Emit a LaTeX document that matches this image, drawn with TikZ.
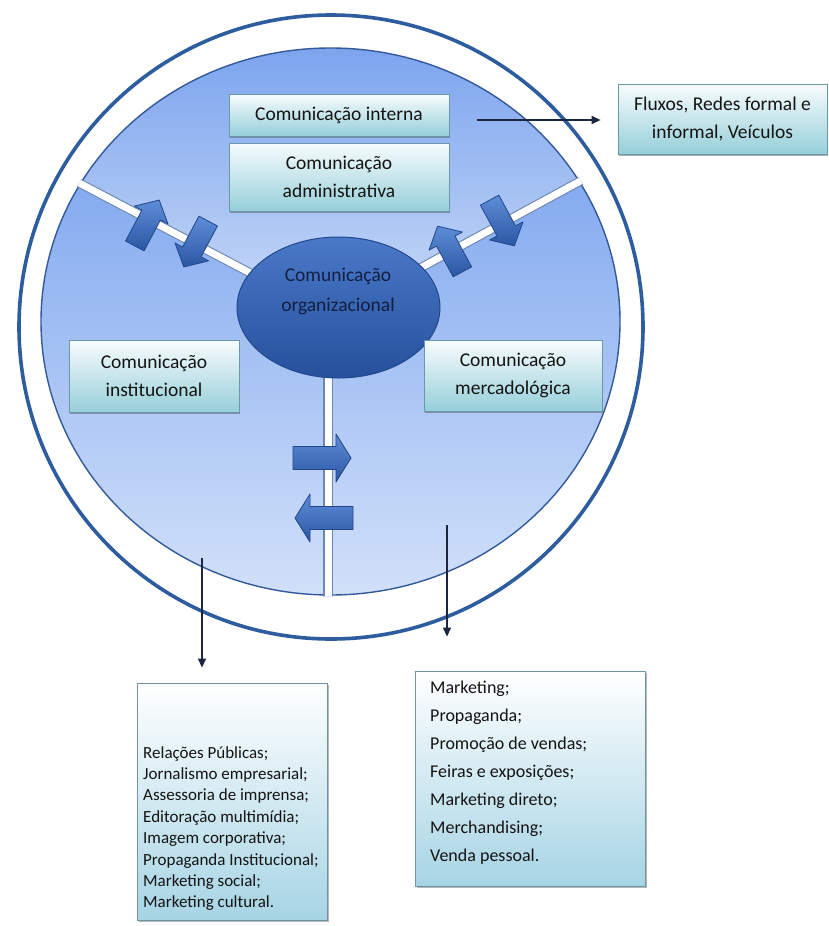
\documentclass[tikz,border=0pt]{standalone}
\usepackage{fontspec}
\setmainfont{Carlito}
\usetikzlibrary{arrows.meta,shapes.geometric,shadows}
\definecolor{ringblue}{HTML}{2D5C9F}
\definecolor{secTop}{HTML}{7AA3EE}
\definecolor{secMid}{HTML}{BCD1F6}
\definecolor{sideTop}{HTML}{86ACF0}
\definecolor{sideBot}{HTML}{D2E1F9}
\definecolor{secEdge}{HTML}{34599A}
\definecolor{sepEdge}{HTML}{6E87B2}
\definecolor{ellTop}{HTML}{4A79C8}
\definecolor{ellBot}{HTML}{26509C}
\definecolor{ellEdge}{HTML}{21488C}
\definecolor{ellText}{HTML}{131F40}
\definecolor{boxTop}{HTML}{F8FCFD}
\definecolor{boxBot}{HTML}{96CFD9}
\definecolor{boxEdge}{HTML}{6B98A8}
\definecolor{listBot}{HTML}{A6D4E4}
\definecolor{arrTop}{HTML}{5E8DD8}
\definecolor{arrBot}{HTML}{2A57A3}
\definecolor{arrEdge}{HTML}{22468A}
\definecolor{connCol}{HTML}{1C2540}
\definecolor{txt}{HTML}{141414}
\newcommand{\barr}[7]{%
  \shade[top color=arrTop, bottom color=arrBot, draw=arrEdge, line width=0.8pt,
    line join=round, shift={(#1,#2)}, rotate=#3]
    (-#4,-#7) -- ({#4-#5},-#7) -- ({#4-#5},-#6) -- (#4,0) -- ({#4-#5},#6)
    -- ({#4-#5},#7) -- (-#4,#7) -- cycle;}
\begin{document}
\begin{tikzpicture}[x=1pt,y=-1pt,
  boxtxt/.style={font=\fontsize{19.5}{28}\selectfont, text=txt, align=center},
  tbox/.style={draw=boxEdge, line width=0.8pt, top color=boxTop, bottom color=boxBot,
    drop shadow={shadow xshift=1.2pt, shadow yshift=-1.8pt, opacity=0.45, fill=black!70},
    inner sep=0pt},
  lbox/.style={draw=boxEdge!80!gray, line width=0.8pt, top color=white, bottom color=listBot,
    drop shadow={shadow xshift=1.5pt, shadow yshift=-2pt, opacity=0.4, fill=black!70},
    inner sep=0pt},
  ltxt/.style={font=\fontsize{17}{21.4}\selectfont, text=txt, align=left, inner sep=0pt},
  sep/.style={draw=sepEdge, line width=1.1pt, double=white, double distance=7pt},
  conn/.style={draw=connCol, line width=1.3pt, -{Triangle[length=9pt,width=8pt]}},
]
\useasboundingbox (0,0) rectangle (828,926);
\fill[white] (0,0) rectangle (828,926);
% outer ring
\draw[ringblue, line width=3.6pt] (331,327) circle [radius=312];
% sectors
\begin{scope}
  \clip (330.5,321.5) ellipse [x radius=289.5, y radius=273.5];
  \fill[sideTop] (0,0) rectangle (700,190);
  \shade[top color=sideTop, bottom color=sideBot] (0,190) rectangle (700,600);
  \begin{scope}
    \clip (332,316) -- (-20,130.9) -- (-20,-10) -- (720,-10) -- (720,105.1) -- cycle;
    \shade[top color=secTop, bottom color=secMid] (0,40) rectangle (700,270);
  \end{scope}
\end{scope}
\draw[secEdge, line width=1.4pt] (330.5,321.5) ellipse [x radius=289.5, y radius=273.5];
% separators
\coordinate (P) at (332,316);
\coordinate (sl) at (60,172.9);
\coordinate (sr) at (600,170.3);
\coordinate (sb0) at (328,316);
\coordinate (sb) at (328,620);
\begin{scope}
  \clip (330.5,321.5) ellipse [x radius=291, y radius=275];
  \draw[sep] (sl) -- (P);
  \draw[sep] (sr) -- (P);
  \draw[sep] (sb0) -- (sb);
\end{scope}
% central ellipse
\node[ellipse, minimum width=203pt, minimum height=141pt, inner sep=0pt,
  top color=ellTop, bottom color=ellBot, draw=ellEdge, line width=1pt] (org) at (338.5,307.5) {};
\node[font=\fontsize{19.5}{30}\selectfont, text=ellText, align=center] (orgt) at (338,291)
  {Comunicação\\organizacional};
% block arrows
\barr{147}{223}{62}{26}{17}{19}{10.5}
\barr{196}{244}{242}{26}{17}{19}{10.5}
\barr{450}{249}{118.5}{26}{17}{19}{10.5}
\barr{502}{223}{-61.5}{26}{17}{19}{10.5}
\barr{322}{458}{0}{29}{15}{24}{11.5}
\barr{324}{518}{180}{29}{15}{24}{11.5}
% boxes
\node[tbox, minimum width=220pt, minimum height=42pt] (interna) at (339,115) {};
\node[boxtxt] at (interna) {Comunicação interna};
\node[tbox, minimum width=220pt, minimum height=68pt] (admin) at (339,177) {};
\node[boxtxt] at (admin) {Comunicação\\administrativa};
\node[tbox, minimum width=170pt, minimum height=72pt] (inst) at (154,376) {};
\node[boxtxt] at (inst.center) {Comunicação\\institucional};
\node[tbox, minimum width=178pt, minimum height=71pt] (merc) at (513,375.5) {};
\node[boxtxt] at (merc.center) {Comunicação\\mercadológica};
\node[tbox, minimum width=209pt, minimum height=70pt] (fluxos) at (722.5,119) {};
\node[boxtxt] at (fluxos.center) {Fluxos, Redes formal e\\informal, Veículos};
% list boxes
\node[lbox, minimum width=190pt, minimum height=237pt] (listL) at (232,801.5) {};
\node[ltxt, anchor=north west] (listLt) at (143,746)
  {Relações Públicas;\\Jornalismo empresarial;\\Assessoria de imprensa;\\Editoração multimídia;\\Imagem corporativa;\\Propaganda Institucional;\\Marketing social;\\Marketing cultural.};
\node[lbox, minimum width=230pt, minimum height=215pt] (listR) at (530,778.5) {};
\node[ltxt, font=\fontsize{18}{28}\selectfont, anchor=north west] (listRt) at (430,681)
  {Marketing;\\Propaganda;\\Promoção de vendas;\\Feiras e exposições;\\Marketing direto;\\Merchandising;\\Venda pessoal.};
% connectors
\coordinate (ci) at (477,120);
\coordinate (cl) at (202,558);
\coordinate (cr) at (447,525);
\draw[conn, shorten >=17pt] (ci) -- (ci -| fluxos.west);
\draw[conn, shorten >=15pt] (cl) -- (cl |- listL.north);
\draw[conn, shorten >=34pt] (cr) -- (cr |- listR.north);
\end{tikzpicture}
\end{document}
